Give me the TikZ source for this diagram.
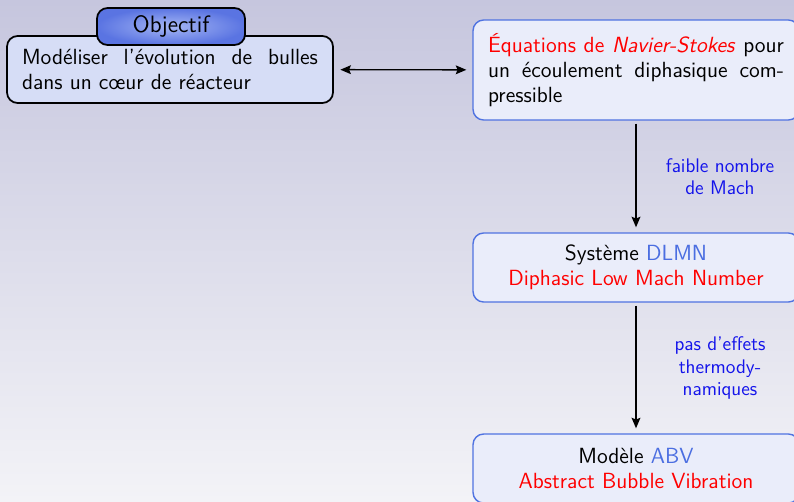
\documentclass[tikz,border=0pt]{standalone}
\usepackage{fontspec}
\usepackage{xcolor}
\usetikzlibrary{arrows.meta}

\definecolor{fondhaut}{RGB}{198,198,222}
\definecolor{fondbas}{RGB}{243,243,247}
\definecolor{bordbleu}{RGB}{80,115,225}
\definecolor{fondbleu}{RGB}{234,237,250}
\definecolor{fondobjectif}{RGB}{214,221,246}
\definecolor{titrefonce}{RGB}{90,116,226}
\definecolor{titreclair}{RGB}{165,182,244}
\definecolor{sigle}{RGB}{75,110,225}
\definecolor{hypothese}{RGB}{20,20,235}

\begin{document}
\begin{tikzpicture}[x=0.02cm, y=-0.02cm,
  font=\sffamily\fontsize{12.5}{14.2}\selectfont,
  objectifbox/.style={draw=black, line width=1pt, fill=fondobjectif, rounded corners=6pt,
    minimum width=6.52cm, minimum height=1.34cm, inner xsep=0.3cm, text width=5.92cm, align=justify},
  titrebox/.style={draw=black, line width=1pt, rounded corners=6pt, inner color=titreclair,
    outer color=titrefonce, minimum width=2.96cm, minimum height=0.74cm,
    font=\sffamily\fontsize{13.5}{16}\selectfont},
  etape/.style={draw=bordbleu, line width=0.8pt, fill=fondbleu, rounded corners=6pt,
    minimum width=6.52cm, minimum height=1.38cm, inner xsep=0.3cm, text width=5.92cm, align=center},
  fleche/.style={line width=0.8pt, >={Stealth[length=6pt, width=5pt, inset=1pt]},
    shorten <=0.06cm, shorten >=0.1cm},
  etiquette/.style={midway, xshift=1.68cm, align=center, text=hypothese,
    font=\sffamily\fontsize{11.2}{12.6}\selectfont}]

  % fond du transparent
  \useasboundingbox (0,0) rectangle (794,501);
  \clip (0,0) rectangle (794,501);
  \shade[top color=fondhaut, bottom color=fondbas] (0,0) rectangle (794,501);

  % objectif
  \node[objectifbox] (objectif) at (170,69.5)
    {Modéliser l'évolution de bulles\linebreak dans un cœur de réacteur};
  \node[titrebox] (titre) at (171,26.5) {Objectif};

  % modeles
  \node[etape, align=justify, minimum height=2cm] (equations) at (636,70)
    {\textcolor{red}{Équations de \textit{Navier-Stokes}} pour\linebreak
     un écoulement diphasique com-\linebreak pressible};
  \node[etape] (dlmn) at (636,267.5)
    {Système \textcolor{sigle}{DLMN}\\\textcolor{red}{Diphasic Low Mach Number}};
  \node[etape] (abv) at (636,468.5)
    {Modèle \textcolor{sigle}{ABV}\\\textcolor{red}{Abstract Bubble Vibration}};

  % liens
  \draw[fleche, <->, shorten <=0.13cm, shorten >=0.12cm] (objectif) -- (equations);
  \draw[fleche, ->] (equations) -- node[etiquette] {faible nombre\\de Mach} (dlmn);
  \draw[fleche, ->] (dlmn) -- node[etiquette] {pas d'effets\\thermody-\\namiques} (abv);
\end{tikzpicture}
\end{document}
